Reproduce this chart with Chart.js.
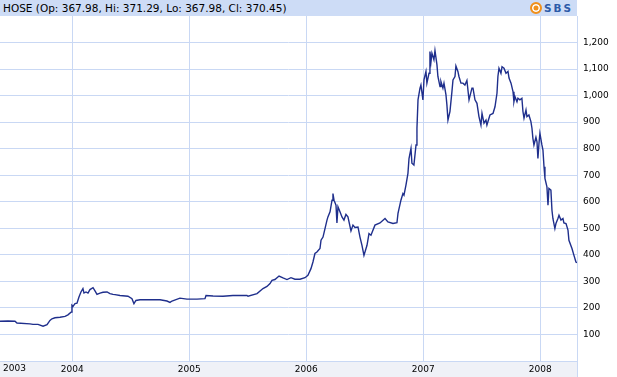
<!DOCTYPE html>
<html><head><meta charset="utf-8">
<script src="https://cdn.jsdelivr.net/npm/chart.js@4"></script>
<style>
html,body{margin:0;padding:0;background:#fff;}
#wrap{position:relative;width:617px;height:377px;overflow:hidden;}
canvas{position:absolute;left:0;top:0;}
#title{position:absolute;left:0;top:0;width:577px;height:16px;background:#cddcf6;}
#title .t{position:absolute;left:3px;top:0;font:10.5px 'DejaVu Sans',sans-serif;line-height:16px;color:#000;white-space:nowrap;}
#logo{position:absolute;left:530px;top:1px;height:14px;}
#logo .c{position:absolute;left:0;top:1px;width:8px;height:8px;border-radius:50%;background:#f0901c;border:2px solid #f0901c;box-shadow:inset 0 0 0 1.5px #fff;}
#logo .s{position:absolute;left:14px;top:0;font:bold 10.5px 'DejaVu Sans',sans-serif;line-height:14px;letter-spacing:2px;color:#2c5aa8;}
</style></head>
<body><div id="wrap">
<canvas id="c" width="617" height="377"></canvas>
<div id="title"><span class="t">HOSE (Op: 367.98, Hi: 371.29, Lo: 367.98, Cl: 370.45)</span>
<div id="logo"><div class="c"></div><span class="s">SBS</span></div></div>
</div>
<script>
const dates = [2003.382,2003.450,2003.510,2003.527,2003.638,2003.664,2003.707,2003.750,2003.784,2003.809,2003.826,2003.852,2003.895,2003.938,2003.963,2003.989,2003.997,2004.006,2004.023,2004.040,2004.057,2004.074,2004.091,2004.100,2004.117,2004.134,2004.151,2004.177,2004.194,2004.211,2004.237,2004.262,2004.297,2004.322,2004.348,2004.365,2004.408,2004.476,2004.510,2004.527,2004.544,2004.579,2004.638,2004.690,2004.750,2004.809,2004.835,2004.852,2004.920,2004.980,2005.066,2005.134,2005.143,2005.203,2005.288,2005.373,2005.493,2005.502,2005.579,2005.630,2005.664,2005.690,2005.707,2005.732,2005.767,2005.801,2005.835,2005.869,2005.903,2005.946,2005.989,2006.014,2006.040,2006.057,2006.074,2006.091,2006.117,2006.126,2006.143,2006.160,2006.177,2006.185,2006.203,2006.220,2006.228,2006.237,2006.254,2006.262,2006.271,2006.288,2006.305,2006.322,2006.339,2006.356,2006.382,2006.399,2006.416,2006.442,2006.459,2006.476,2006.493,2006.519,2006.536,2006.553,2006.587,2006.630,2006.673,2006.698,2006.741,2006.775,2006.784,2006.809,2006.826,2006.835,2006.852,2006.869,2006.878,2006.895,2006.903,2006.920,2006.938,2006.946,2006.955,2006.972,2006.980,2006.997,2007.006,2007.023,2007.031,2007.049,2007.057,2007.066,2007.074,2007.091,2007.100,2007.117,2007.125,2007.143,2007.151,2007.168,2007.177,2007.194,2007.202,2007.211,2007.228,2007.245,2007.254,2007.271,2007.279,2007.296,2007.305,2007.322,2007.339,2007.356,2007.373,2007.391,2007.416,2007.425,2007.442,2007.459,2007.476,2007.493,2007.502,2007.519,2007.536,2007.544,2007.570,2007.596,2007.613,2007.630,2007.638,2007.647,2007.664,2007.673,2007.690,2007.707,2007.724,2007.733,2007.750,2007.767,2007.775,2007.784,2007.801,2007.809,2007.826,2007.843,2007.852,2007.861,2007.878,2007.886,2007.903,2007.920,2007.929,2007.937,2007.946,2007.963,2007.972,2007.980,2007.989,2007.997,2008.014,2008.023,2008.032,2008.040,2008.057,2008.066,2008.074,2008.091,2008.100,2008.108,2008.125,2008.134,2008.151,2008.160,2008.177,2008.194,2008.202,2008.220,2008.237,2008.245,2008.271,2008.288,2008.305,2008.314];
const closes = [150,151,150,143,140,138,138,131,137,153,159,163,165,168,174,184,210,206,216,218,241,260,273,256,260,256,269,276,264,251,256,259,260,254,251,250,247,244,235,216,228,231,231,231,231,226,221,226,237,233,233,235,247,245,244,247,247,244,254,273,281,292,304,307,320,313,307,314,308,308,314,323,348,373,405,411,424,455,467,499,531,543,562,606,631,606,587,520,581,562,543,531,552,543,490,512,503,505,467,436,398,436,480,474,512,520,537,524,518,521,556,606,631,625,663,707,763,801,745,738,814,877,984,1028,1040,984,1059,1091,1047,1084,1166,1128,1160,1135,1170,1116,1072,1034,1053,1028,1047,1003,965,908,940,1015,1059,1072,1112,1091,1072,1047,1047,1040,1057,984,1028,1028,984,971,921,889,933,896,908,889,927,933,958,1009,1072,1103,1084,1109,1103,1084,1091,1066,1047,1015,977,996,977,990,984,990,940,915,946,921,927,902,877,839,814,843,826,763,820,858,814,795,732,688,656,587,650,644,568,537,499,518,537,549,531,537,520,518,493,455,424,398,373,370];
const yearTicks = [2004,2005,2006,2007,2008];
const firstYearLabel = '2003';
const priceTicks = [100,200,300,400,500,600,700,800,900,1000,1100,1200];

const GRID = '#c9d8f4';
const FONT = "'DejaVu Sans', sans-serif";

const bandPlugin = {
  id: 'band',
  beforeDraw(chart) {
    const {ctx, chartArea} = chart;
    ctx.save();
    ctx.fillStyle = '#eff1f7';
    ctx.fillRect(0, chartArea.bottom, chartArea.right, chart.height - chartArea.bottom);
    ctx.restore();
  },
  afterDraw(chart) {
    const {ctx, chartArea} = chart;
    ctx.save();
    ctx.strokeStyle = GRID;
    ctx.lineWidth = 1;
    ctx.beginPath();
    ctx.moveTo(Math.round(chartArea.right) + 0.5, chartArea.bottom);
    ctx.lineTo(Math.round(chartArea.right) + 0.5, chart.height);
    ctx.stroke();
    ctx.fillStyle = '#000';
    ctx.font = '9px ' + FONT;
    ctx.textBaseline = 'top';
    ctx.textAlign = 'left';
    ctx.fillText(firstYearLabel, 3, chartArea.bottom + 3);
    ctx.restore();
  }
};

new Chart(document.getElementById('c'), {
  type: 'line',
  data: {
    datasets: [{
      data: dates.map((d, i) => ({x: d, y: closes[i]})),
      borderColor: '#1f2f8c',
      borderWidth: 1.4,
      pointRadius: 0,
      tension: 0,
      fill: false
    }]
  },
  options: {
    responsive: false,
    animation: false,
    layout: {padding: {top: 16, left: 0, right: 0, bottom: 0}},
    plugins: {legend: {display: false}, tooltip: {enabled: false}, title: {display: false}},
    scales: {
      x: {
        type: 'linear', position: 'bottom', min: 2003.382, max: 2008.314,
        afterBuildTicks: s => { s.ticks = yearTicks.map(v => ({value: v})); },
        afterFit: s => { s.height = 16; },
        ticks: {callback: v => String(v), font: {family: FONT, size: 9}, color: '#000', padding: 3, maxRotation: 0, autoSkip: false},
        grid: {color: GRID, lineWidth: 1, drawTicks: false},
        border: {color: GRID}
      },
      y: {
        position: 'right', min: 0, max: 1300,
        afterBuildTicks: s => { s.ticks = priceTicks.map(v => ({value: v})); },
        afterFit: s => { s.width = 40; },
        ticks: {callback: v => v.toLocaleString('en-US'), font: {family: FONT, size: 9}, color: '#000', padding: 6, autoSkip: false},
        grid: {color: GRID, lineWidth: 1, drawTicks: false},
        border: {color: GRID}
      }
    }
  },
  plugins: [bandPlugin]
});
</script>
</body></html>
